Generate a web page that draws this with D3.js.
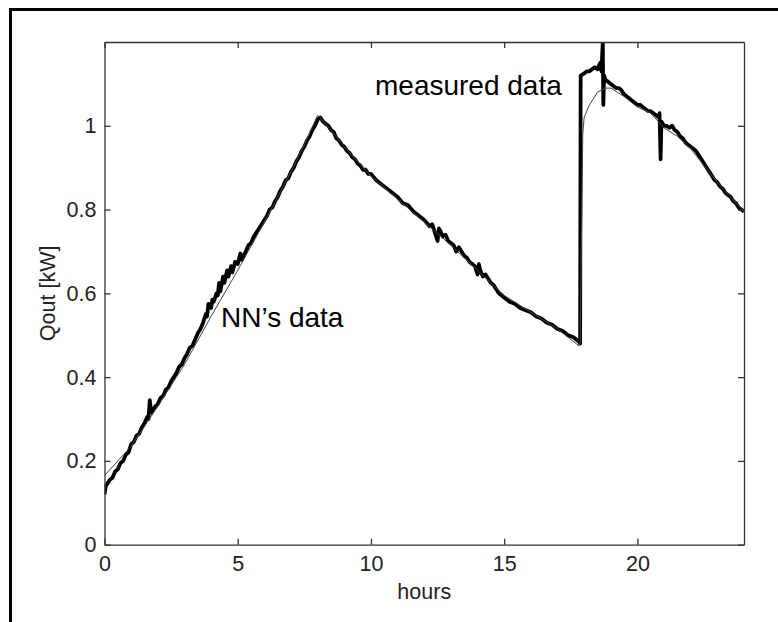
<!DOCTYPE html>
<html>
<head>
<meta charset="utf-8">
<script src="https://cdn.jsdelivr.net/npm/d3@7"></script>
<style>
  body { margin: 0; background: #fff; }
  svg { display: block; font-family: "Liberation Sans", Arial, sans-serif; }
</style>
</head>
<body>
<svg id="chart" width="778" height="622"></svg>
<script>
const measuredHours = [
  0, 0.05, 0.1, 0.2, 0.3, 0.4, 0.5, 0.6, 0.7, 0.8, 0.9, 1.0, 1.1, 1.2, 1.3, 1.4, 1.5, 1.6, 1.65,
  1.7, 1.75, 1.8, 1.9, 2.0, 2.1, 2.2, 2.3, 2.4, 2.5, 2.6, 2.7, 2.8, 2.9, 3.0, 3.1, 3.2, 3.3,
  3.4, 3.5, 3.6, 3.7, 3.8, 3.85, 3.9, 4.0, 4.05, 4.1, 4.2, 4.25, 4.3, 4.35, 4.45, 4.5, 4.6,
  4.65, 4.75, 4.8, 4.9, 5.0, 5.1, 5.15, 5.3, 5.4, 5.5, 5.6, 5.7, 5.8, 5.9, 6.0, 6.1, 6.2,
  6.3, 6.4, 6.5, 6.6, 6.7, 6.8, 6.9, 7.0, 7.1, 7.2, 7.3, 7.4, 7.5, 7.6, 7.7, 7.8, 7.9, 8.0,
  8.1, 8.2, 8.3, 8.4, 8.5, 8.6, 8.7, 8.8, 8.9, 9.0, 9.1, 9.2, 9.3, 9.4, 9.5, 9.6, 9.7, 9.8,
  9.9, 10.0, 10.2, 10.4, 10.6, 10.8, 11.0, 11.2, 11.4, 11.6, 11.8, 12.0, 12.2, 12.3, 12.4,
  12.5, 12.55, 12.6, 12.7, 12.8, 12.9, 13.0, 13.1, 13.2, 13.3, 13.4, 13.5, 13.6, 13.7, 13.8,
  13.9, 14.0, 14.05, 14.1, 14.2, 14.3, 14.4, 14.5, 14.6, 14.7, 14.8, 14.9, 15.0, 15.2, 15.4,
  15.6, 15.8, 16.0, 16.2, 16.4, 16.6, 16.8, 17.0, 17.2, 17.4, 17.6, 17.8, 17.85, 17.87, 18.0,
  18.1, 18.2, 18.3, 18.4, 18.5, 18.6, 18.65, 18.7, 18.72, 18.75, 18.8, 18.9, 19.0, 19.1, 19.2,
  19.3, 19.4, 19.5, 19.6, 19.7, 19.8, 19.9, 20.0, 20.1, 20.2, 20.3, 20.4, 20.5, 20.6, 20.7,
  20.8, 20.83, 20.87, 20.9, 21.0, 21.1, 21.2, 21.3, 21.4, 21.5, 21.6, 21.7, 21.8, 21.9, 22.0,
  22.1, 22.2, 22.3, 22.4, 22.5, 22.6, 22.7, 22.8, 22.9, 23.0, 23.1, 23.2, 23.3, 23.4, 23.5,
  23.6, 23.7, 23.8, 23.9, 24.0
];
const measuredQ = [
  0.12, 0.14, 0.145, 0.155, 0.16, 0.175, 0.18, 0.195, 0.20, 0.215, 0.22, 0.24, 0.245, 0.26, 0.265, 0.28, 0.29, 0.305, 0.30,
  0.345, 0.315, 0.32, 0.33, 0.335, 0.35, 0.355, 0.37, 0.375, 0.39, 0.40, 0.41, 0.425, 0.43, 0.445, 0.455, 0.47, 0.475,
  0.49, 0.505, 0.515, 0.53, 0.55, 0.545, 0.575, 0.565, 0.585, 0.58, 0.60, 0.595, 0.625, 0.605, 0.64, 0.625, 0.655,
  0.64, 0.665, 0.65, 0.675, 0.67, 0.695, 0.68, 0.70, 0.715, 0.72, 0.735, 0.745, 0.755, 0.765, 0.775, 0.785, 0.80,
  0.805, 0.82, 0.83, 0.845, 0.855, 0.87, 0.875, 0.89, 0.90, 0.915, 0.925, 0.94, 0.95, 0.965, 0.975, 0.99, 1.0, 1.015,
  1.02, 1.01, 1.005, 1.0, 0.99, 0.985, 0.97, 0.965, 0.955, 0.95, 0.94, 0.935, 0.925, 0.92, 0.91, 0.905, 0.895, 0.895,
  0.885, 0.885, 0.87, 0.86, 0.85, 0.84, 0.83, 0.815, 0.81, 0.795, 0.785, 0.775, 0.76, 0.765, 0.745,
  0.725, 0.755, 0.75, 0.735, 0.74, 0.725, 0.72, 0.715, 0.70, 0.71, 0.70, 0.69, 0.685, 0.675, 0.67,
  0.665, 0.645, 0.67, 0.655, 0.64, 0.645, 0.635, 0.625, 0.62, 0.61, 0.60, 0.595, 0.59, 0.58, 0.575,
  0.565, 0.56, 0.555, 0.545, 0.54, 0.53, 0.525, 0.515, 0.51, 0.50, 0.495, 0.485, 0.48, 1.12, 1.125,
  1.13, 1.13, 1.135, 1.14, 1.135, 1.15, 1.13, 1.2, 1.05, 1.12, 1.11, 1.105, 1.10, 1.095, 1.09,
  1.09, 1.085, 1.075, 1.07, 1.065, 1.06, 1.055, 1.05, 1.05, 1.045, 1.04, 1.035, 1.035, 1.03, 1.025,
  1.02, 1.03, 0.92, 1.01, 1.0, 1.0, 0.995, 1.0, 0.99, 0.985, 0.975, 0.97, 0.96, 0.955, 0.95,
  0.945, 0.94, 0.93, 0.92, 0.91, 0.90, 0.89, 0.88, 0.87, 0.865, 0.855, 0.85, 0.84, 0.835, 0.83,
  0.82, 0.815, 0.805, 0.80, 0.795
];

// neural network output
const nnHours = [
  0, 0.5, 1, 2, 3, 4, 5, 6, 7, 7.5, 8, 8.5, 9, 10, 11, 12, 13, 14, 15, 16, 17, 17.8, 17.85,
  17.95, 18.0, 18.2, 18.5, 18.8, 19.0, 19.5, 20, 20.5, 21, 21.5, 22, 22.5, 23, 23.5, 24
];
const nnQ = [
  0.165, 0.2, 0.235, 0.33, 0.43, 0.545, 0.655, 0.77, 0.89, 0.955, 1.025, 0.99, 0.95, 0.88, 0.825, 0.77, 0.715, 0.655, 0.595, 0.555, 0.515, 0.475, 0.48,
  0.98, 1.02, 1.05, 1.08, 1.09, 1.09, 1.07, 1.045, 1.03, 0.995, 0.975, 0.945, 0.905, 0.865, 0.83, 0.795
];

const xTicks = [0, 5, 10, 15, 20];
const yTicks = [0, 0.2, 0.4, 0.6, 0.8, 1];

const svg = d3.select("#chart");
const plotLeft = 104.5, plotTop = 42, plotRight = 744, plotBottom = 544.7;

// outer frame, only its top and left edges are in the picture
svg.append("rect")
  .attr("x", 10.5).attr("y", 9.5)
  .attr("width", 900).attr("height", 900)
  .attr("fill", "none").attr("stroke", "#000").attr("stroke-width", 3);

const x = d3.scaleLinear().domain([0, 24]).range([plotLeft, plotRight]);
const y = d3.scaleLinear().domain([0, 1.2]).range([plotBottom, plotTop]);

svg.append("clipPath").attr("id", "clip")
  .append("rect")
  .attr("x", plotLeft).attr("y", plotTop)
  .attr("width", plotRight - plotLeft).attr("height", plotBottom - plotTop);

const plot = svg.append("g").attr("clip-path", "url(#clip)");

const line = d3.line().x(d => x(d[0])).y(d => y(d[1]));

plot.append("path")
  .datum(d3.zip(measuredHours, measuredQ))
  .attr("d", line)
  .attr("fill", "none").attr("stroke", "#000")
  .attr("stroke-width", 3.8).attr("stroke-linejoin", "round");

plot.append("path")
  .datum(d3.zip(nnHours, nnQ))
  .attr("d", line)
  .attr("fill", "none").attr("stroke", "#444")
  .attr("stroke-width", 1);

// axes, ticks point inward on all four sides
function styleAxis(g) {
  g.select(".domain").attr("stroke", "#333").attr("stroke-width", 1.3).attr("fill", "none");
  g.selectAll(".tick line").attr("stroke", "#333").attr("stroke-width", 1.3);
  g.selectAll(".tick text").attr("fill", "#222").attr("font-size", 21.5)
    .attr("font-family", "Liberation Sans, Arial, sans-serif");
}

svg.append("g")
  .attr("transform", "translate(0," + plotBottom + ")")
  .call(d3.axisBottom(x).tickValues(xTicks).tickSize(-6).tickPadding(11).tickSizeOuter(0))
  .call(styleAxis);

svg.append("g")
  .attr("transform", "translate(0," + plotTop + ")")
  .call(d3.axisTop(x).tickValues(xTicks).tickSize(-6).tickFormat("").tickSizeOuter(0))
  .call(styleAxis);

svg.append("g")
  .attr("transform", "translate(" + plotLeft + ",0)")
  .call(d3.axisLeft(y).tickValues(yTicks).tickSize(-6).tickPadding(8).tickSizeOuter(0).tickFormat(d => String(d)))
  .call(styleAxis);

svg.append("g")
  .attr("transform", "translate(" + plotRight + ",0)")
  .call(d3.axisRight(y).tickValues(yTicks).tickSize(-6).tickFormat("").tickSizeOuter(0))
  .call(styleAxis);

// axis labels
svg.append("text")
  .attr("x", (plotLeft + plotRight) / 2).attr("y", 599)
  .attr("text-anchor", "middle").attr("font-size", 21.5).attr("fill", "#222")
  .text("hours");

svg.append("text")
  .attr("transform", "translate(55," + y(0.6) + ") rotate(-90)")
  .attr("text-anchor", "middle").attr("font-size", 21.5).attr("fill", "#222")
  .text("Qout [kW]");

// annotations
svg.append("text")
  .attr("x", 375).attr("y", 95)
  .attr("font-size", 28).attr("fill", "#000")
  .text("measured data");

svg.append("text")
  .attr("x", 221).attr("y", 327)
  .attr("font-size", 28).attr("fill", "#000")
  .text("NN\u2019s data");
</script>
</body>
</html>
